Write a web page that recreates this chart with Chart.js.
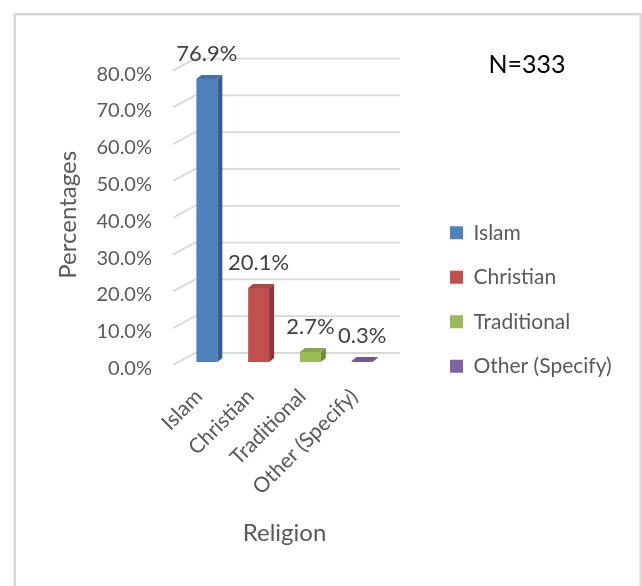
<!DOCTYPE html>
<html><head><meta charset="utf-8">
<script src="https://cdn.jsdelivr.net/npm/chart.js@4.4.0/dist/chart.umd.min.js"></script>
<style>html,body{margin:0;padding:0;background:#fff;} canvas{display:block;}</style>
</head><body>
<canvas id="c" width="642" height="586"></canvas>
<script>
// ---- data ----
const categories = ['Islam', 'Christian', 'Traditional', 'Other (Specify)'];
const percentages = [76.9, 20.1, 2.7, 0.3];
const yTickMin = 0, yTickMax = 80, yTickStep = 10;
const sampleNote = 'N=333';
const yTitle = 'Percentages';
const xTitle = 'Religion';

// ---- styles ----
const barColors  = ['#4F81BD', '#C0504D', '#9BBB59', '#8064A2'];
const sideColors = ['#385D8A', '#8C3836', '#71893F', '#5C4776'];
const topColors  = ['#4472A8', '#A84643', '#88A64E', '#6F588E'];
const FONT = 'Lato';
const TXT = '#595959';

// layout
const PAD_LEFT = 50, PLOT_LEFT = 181, PLOT_RIGHT = 388, PLOT_TOP = 67.6, PLOT_BOTTOM = 362;
const PAD_BOTTOM = 34.6;
const LEG_FONT = 21, LEG_BOX = 13, LEG_PAD = 23.5, LEG_X = 450, LEG_SHIFT = -10;
const DEPTH_X = 5, DEPTH_Y = 4;

const mctx = document.createElement('canvas').getContext('2d');
mctx.font = LEG_FONT + 'px ' + FONT;
let tw = 0;
categories.forEach(c => { tw = Math.max(tw, mctx.measureText(c).width); });
const legendRight = LEG_X + LEG_BOX + LEG_FONT / 2 + tw + 10;
const PAD_RIGHT = Math.max(0, 642 - legendRight);
const GAP_RIGHT = (LEG_X - LEG_PAD) - PLOT_RIGHT;

Chart.defaults.font.family = FONT;

const deco = {
  id: 'deco',
  beforeDraw(chart) {
    const ctx = chart.ctx;
    ctx.save();
    ctx.fillStyle = '#fff';
    ctx.fillRect(0, 0, chart.width, chart.height);
    ctx.fillStyle = '#D9D9D9';
    ctx.fillRect(13.5, 13, 2.5, 573);
    ctx.fillRect(13.5, 13, 628, 2.5);
    ctx.fillRect(639.5, 13, 2.5, 573);
    ctx.restore();
  },
  afterLayout(chart) {
    const lg = chart.legend;
    const w = lg.width;
    lg.left = LEG_X - LEG_PAD;
    lg.right = lg.left + w;
    lg.top += LEG_SHIFT;
    lg.bottom += LEG_SHIFT;
  },
  beforeDatasetsDraw(chart) {
    const ctx = chart.ctx, ys = chart.scales.y, area = chart.chartArea;
    ctx.save();
    ctx.strokeStyle = '#D9D9D9';
    ctx.lineWidth = 1.8;
    ys.ticks.forEach(t => {
      const p = ys.getPixelForValue(t.value);
      ctx.beginPath();
      ctx.moveTo(area.left - 8, p + 3);
      ctx.lineTo(area.left + 14, p - 9);
      ctx.lineTo(area.right + 12, p - 9);
      ctx.stroke();
    });
    ctx.restore();
  },
  afterDatasetsDraw(chart) {
    const ctx = chart.ctx;
    const meta = chart.getDatasetMeta(0);
    ctx.save();
    meta.data.forEach((bar, i) => {
      const {x, y, base, width} = bar.getProps(['x', 'y', 'base', 'width'], true);
      const l = x - width / 2, r = x + width / 2;
      ctx.fillStyle = sideColors[i];
      ctx.beginPath();
      ctx.moveTo(r, y); ctx.lineTo(r + DEPTH_X, y - DEPTH_Y);
      ctx.lineTo(r + DEPTH_X, base - DEPTH_Y); ctx.lineTo(r, base);
      ctx.closePath(); ctx.fill();
      ctx.fillStyle = topColors[i];
      ctx.beginPath();
      ctx.moveTo(l, y); ctx.lineTo(l + DEPTH_X, y - DEPTH_Y);
      ctx.lineTo(r + DEPTH_X, y - DEPTH_Y); ctx.lineTo(r, y);
      ctx.closePath(); ctx.fill();
      ctx.fillStyle = '#404040';
      ctx.font = '22px ' + FONT;
      ctx.textAlign = 'center';
      ctx.textBaseline = 'middle';
      ctx.fillText(percentages[i].toFixed(1) + '%', x, y - 25);
    });
    ctx.restore();
  },
  afterDraw(chart) {
    const ctx = chart.ctx;
    ctx.save();
    ctx.fillStyle = '#000';
    ctx.font = '25px ' + FONT;
    ctx.textAlign = 'center';
    ctx.textBaseline = 'middle';
    ctx.fillText(sampleNote, 527, 65);
    ctx.restore();
  }
};

new Chart(document.getElementById('c'), {
  type: 'bar',
  data: {
    labels: categories,
    datasets: [{
      data: percentages,
      backgroundColor: barColors,
      borderWidth: 0,
      barPercentage: 0.81,
      categoryPercentage: 0.5
    }]
  },
  options: {
    responsive: false,
    animation: false,
    devicePixelRatio: 1,
    layout: { padding: { left: PAD_LEFT, top: PLOT_TOP, right: PAD_RIGHT, bottom: PAD_BOTTOM } },
    plugins: {
      legend: {
        position: 'right',
        maxWidth: 400,
        labels: {
          font: { size: LEG_FONT },
          color: TXT,
          boxWidth: LEG_BOX,
          boxHeight: LEG_BOX,
          padding: LEG_PAD,
          generateLabels: () => categories.map((c, i) => ({
            text: c, fillStyle: barColors[i], strokeStyle: barColors[i], lineWidth: 0,
            fontColor: TXT, hidden: false, index: i
          }))
        }
      },
      tooltip: { enabled: false }
    },
    scales: {
      x: {
        grid: { display: false, drawTicks: false },
        border: { display: false },
        ticks: { font: { size: 21 }, color: TXT, minRotation: 45, maxRotation: 45, autoSkip: false, padding: 22, labelOffset: -8 },
        title: { display: true, text: xTitle, font: { size: 24 }, color: TXT },
        afterFit(s) { s.height = (586 - PAD_BOTTOM) - PLOT_BOTTOM; }
      },
      y: {
        min: yTickMin, max: yTickMax,
        grid: { display: false, drawTicks: false },
        border: { display: false },
        ticks: { stepSize: yTickStep, font: { size: 20 }, color: TXT, padding: 29, labelOffset: 6.5,
                 callback: v => v.toFixed(1) + '%' },
        title: { display: true, text: yTitle, font: { size: 24 }, color: TXT },
        afterFit(s) { s.width = PLOT_LEFT - PAD_LEFT; }
      },
      yR: {
        type: 'linear', position: 'right', display: true,
        grid: { display: false, drawTicks: false }, border: { display: false },
        ticks: { display: false },
        afterFit(s) { s.width = GAP_RIGHT; }
      }
    }
  },
  plugins: [deco]
});
</script>
</body></html>
